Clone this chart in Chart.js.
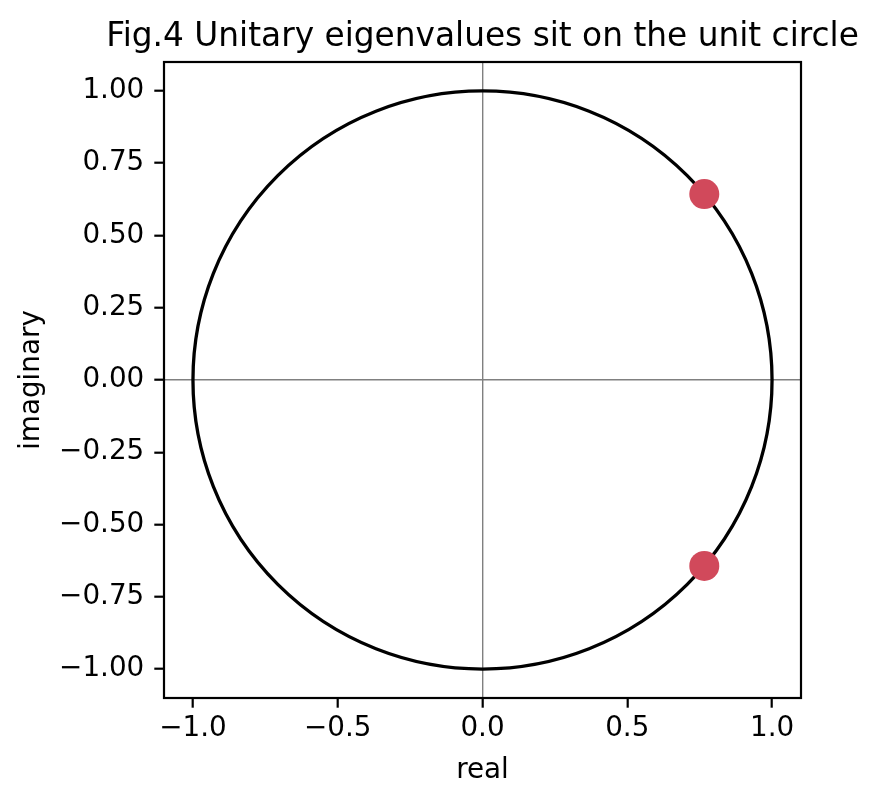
<!DOCTYPE html>
<html>
<head>
<meta charset="utf-8">
<script src="https://cdn.jsdelivr.net/npm/chart.js@4"></script>
<style>
  html, body { margin: 0; padding: 0; background: #ffffff; }
  #wrap { width: 878px; height: 805px; }
</style>
</head>
<body>
<div id="wrap"><canvas id="c" width="878" height="805"></canvas></div>
<script>
// ---- data ----
const chartTitle = 'Fig.4 Unitary eigenvalues sit on the unit circle';
const xAxisTitle = 'real';
const yAxisTitle = 'imaginary';
const eigenReal = [0.766, 0.766];
const eigenImag = [0.643, -0.643];
const circleCenter = [0, 0];
const circleRadius = [1];
const xTickValues = [-1.0, -0.5, 0.0, 0.5, 1.0];
const xTickLabels = ['\u22121.0', '\u22120.5', '0.0', '0.5', '1.0'];
const yTickValues = [-1.0, -0.75, -0.5, -0.25, 0.0, 0.25, 0.5, 0.75, 1.0];
const yTickLabels = ['\u22121.00', '\u22120.75', '\u22120.50', '\u22120.25', '0.00', '0.25', '0.50', '0.75', '1.00'];
const axisRange = [-1.1, 1.1];

const FONT = "'DejaVu Sans', sans-serif";
Chart.defaults.font.family = FONT;
Chart.defaults.color = '#000000';

const circlePlugin = {
  id: 'unitCircle',
  beforeDatasetsDraw(chart) {
    const {ctx, chartArea, scales} = chart;
    const cx = scales.x.getPixelForValue(circleCenter[0]);
    const cy = scales.y.getPixelForValue(circleCenter[1]);
    const rx = scales.x.getPixelForValue(circleCenter[0] + circleRadius[0]) - cx;
    const ry = cy - scales.y.getPixelForValue(circleCenter[1] + circleRadius[0]);
    ctx.save();
    ctx.beginPath();
    ctx.rect(chartArea.left, chartArea.top, chartArea.right - chartArea.left, chartArea.bottom - chartArea.top);
    ctx.clip();
    ctx.beginPath();
    ctx.ellipse(cx, cy, rx, ry, 0, 0, Math.PI * 2);
    ctx.strokeStyle = '#000000';
    ctx.lineWidth = 3.3;
    ctx.stroke();
    ctx.restore();
  }
};

const framePlugin = {
  id: 'frame',
  afterDatasetsDraw(chart) {
    const {ctx, chartArea} = chart;
    ctx.save();
    ctx.strokeStyle = '#000000';
    ctx.lineWidth = 2.2;
    ctx.strokeRect(chartArea.left, chartArea.top, chartArea.right - chartArea.left, chartArea.bottom - chartArea.top);
    ctx.restore();
  }
};

const titlePlugin = {
  id: 'axesTitle',
  afterDraw(chart) {
    const {ctx, chartArea} = chart;
    ctx.save();
    ctx.font = '32.8px ' + FONT;
    ctx.fillStyle = '#000000';
    ctx.textAlign = 'center';
    ctx.textBaseline = 'alphabetic';
    ctx.fillText(chartTitle, (chartArea.left + chartArea.right) / 2, chartArea.top - 16.3);
    ctx.restore();
  }
};

const zeroColor = (c) => (c.tick && c.tick.value === 0) ? '#808080' : 'rgba(0,0,0,0)';

new Chart(document.getElementById('c'), {
  type: 'scatter',
  data: {
    datasets: [{
      label: 'eigenvalues',
      data: eigenReal.map((x, i) => ({x: x, y: eigenImag[i]})),
      backgroundColor: '#d1495b',
      borderWidth: 0,
      pointRadius: 15,
      pointHoverRadius: 15
    }]
  },
  options: {
    responsive: false,
    devicePixelRatio: 1,
    animation: false,
    layout: { padding: { left: 0, right: 77, top: 62, bottom: 0 } },
    plugins: {
      legend: { display: false },
      tooltip: { enabled: false },
      title: { display: false }
    },
    scales: {
      x: {
        type: 'linear',
        min: axisRange[0],
        max: axisRange[1],
        afterBuildTicks: (s) => { s.ticks = xTickValues.map(v => ({value: v})); },
        afterFit: (s) => { s.height = 107; },
        ticks: {
          autoSkip: false,
          maxRotation: 0,
          padding: 4.3,
          font: { size: 27.8 },
          color: '#000000',
          callback: (v, i) => xTickLabels[i]
        },
        grid: {
          drawOnChartArea: true,
          color: zeroColor,
          lineWidth: 1.4,
          tickColor: '#000000',
          tickWidth: 2.2,
          tickLength: 9.7
        },
        border: { display: false },
        title: {
          display: true,
          text: xAxisTitle,
          font: { size: 27.8 },
          color: '#000000',
          padding: { top: 0, bottom: 18 }
        }
      },
      y: {
        type: 'linear',
        min: axisRange[0],
        max: axisRange[1],
        afterBuildTicks: (s) => { s.ticks = yTickValues.map(v => ({value: v})); },
        afterFit: (s) => { s.width = 164; },
        ticks: {
          autoSkip: false,
          padding: 10,
          font: { size: 27.8 },
          color: '#000000',
          callback: (v, i) => yTickLabels[i]
        },
        grid: {
          drawOnChartArea: true,
          color: zeroColor,
          lineWidth: 1.4,
          tickColor: '#000000',
          tickWidth: 2.2,
          tickLength: 9.7
        },
        border: { display: false },
        title: {
          display: true,
          text: yAxisTitle,
          font: { size: 27.8 },
          color: '#000000',
          padding: { top: 15.5, bottom: 0 }
        }
      }
    }
  },
  plugins: [circlePlugin, framePlugin, titlePlugin]
});
</script>
</body>
</html>
